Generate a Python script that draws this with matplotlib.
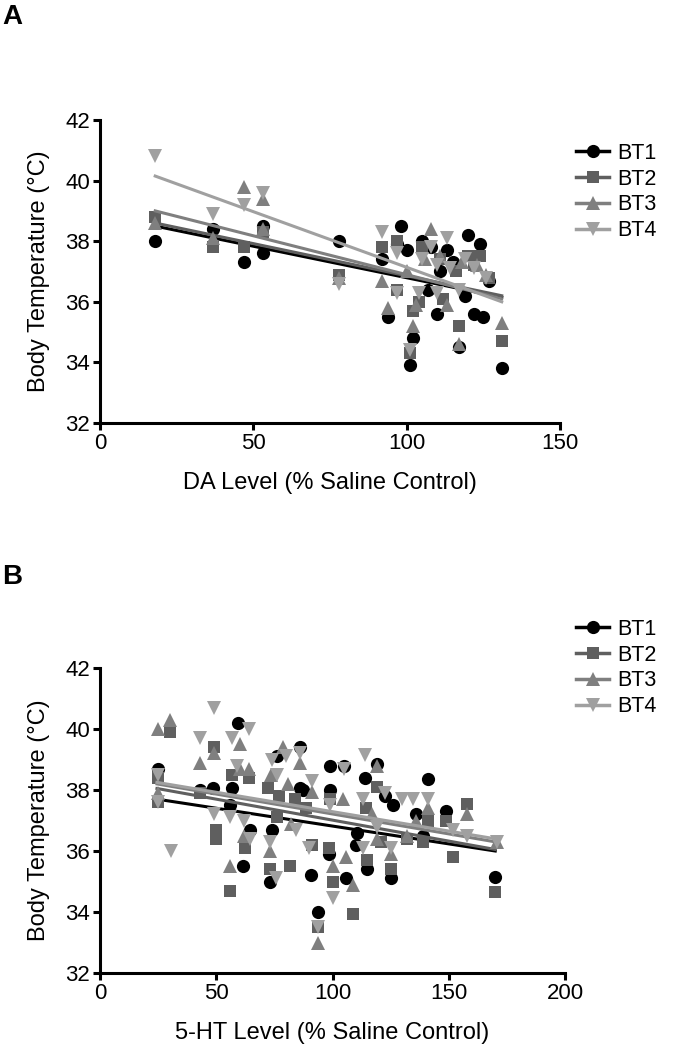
import numpy as np
import matplotlib.pyplot as plt

plt.rcParams['font.family'] = ['Liberation Sans', 'DejaVu Sans']

series = ['BT1', 'BT2', 'BT3', 'BT4']
colors = ['#000000', '#5f5f5f', '#7f7f7f', '#a0a0a0']
markers = ['o', 's', '^', 'v']
msizes = [9.5, 9, 10, 10]

# ---- Panel A: DA level vs body temperature ----
da_x = {
    'BT1': [18, 37, 47, 53, 53, 78, 92, 94, 97, 98, 100, 101, 102, 105, 107, 108,
            110, 111, 113, 115, 117, 119, 120, 122, 124, 125, 127, 131],
    'BT2': [18, 37, 47, 53, 78, 92, 97, 97, 101, 102, 104, 105, 111, 112, 116, 117,
            120, 122, 124, 127, 131],
    'BT3': [18, 37, 47, 53, 53, 78, 92, 94, 100, 102, 103, 106, 108, 111, 113, 117,
            118, 123, 126, 131],
    'BT4': [18, 37, 47, 53, 78, 92, 97, 97, 101, 104, 105, 108, 110, 110, 113, 114,
            117, 119, 122, 126],
}
da_y = {
    'BT1': [38.0, 38.4, 37.3, 38.5, 37.6, 38.0, 37.4, 35.5, 37.9, 38.5, 37.7, 33.9,
            34.8, 38.0, 36.4, 37.8, 35.6, 37.0, 37.7, 37.3, 34.5, 36.2, 38.2, 35.6,
            37.9, 35.5, 36.7, 33.8],
    'BT2': [38.8, 37.8, 37.8, 38.3, 36.9, 37.8, 38.0, 36.4, 34.3, 35.7, 36.0, 37.8,
            37.4, 36.1, 37.0, 35.2, 37.5, 37.2, 37.5, 36.8, 34.7],
    'BT3': [38.6, 38.1, 39.8, 39.4, 38.4, 36.8, 36.7, 35.8, 37.0, 35.2, 35.9, 37.4,
            38.4, 37.5, 35.9, 34.6, 37.3, 37.2, 36.9, 35.3],
    'BT4': [40.8, 38.9, 39.2, 39.6, 36.6, 38.3, 37.6, 36.3, 34.4, 36.3, 37.4, 37.8,
            37.2, 36.3, 38.1, 37.1, 36.4, 37.4, 37.1, 36.8],
}
# regression lines: y at the start / end of the x range
da_fit_x = (18, 131)
da_fit = {
    'BT1': (38.50, 36.15),
    'BT2': (38.60, 36.20),
    'BT3': (39.00, 36.10),
    'BT4': (40.15, 36.00),
}

# ---- Panel B: 5-HT level vs body temperature ----
ht_x = {
    'BT1': [25, 43, 48.6, 56.6, 56, 59.5, 61.6, 64.5, 73, 74, 76, 85.9, 86, 87.5,
            90.6, 93.6, 98.5, 99, 99, 105, 106, 110, 110.5, 114, 115, 119, 122.6,
            125, 126, 136, 139, 141, 149, 170],
    'BT2': [25, 25, 30, 43, 49, 50, 50, 56.6, 56, 62.5, 64, 72.4, 73, 76, 77, 81.7,
            84, 88.6, 91, 93.6, 98.5, 99, 100, 109, 114.5, 115, 119, 121, 125, 132,
            139, 141, 149, 152, 157.7, 170],
    'BT3': [25, 25, 30, 43, 49, 56, 60, 60, 62, 64, 73, 73.6, 78.6, 81, 82, 86, 91,
            93.6, 100, 104.6, 106, 109, 117, 119, 119, 125, 132, 136, 141, 157.7,
            170.6],
    'BT4': [25, 25, 30.5, 43, 49, 49, 56.6, 56, 59, 62, 64, 64.5, 73, 74, 75.5, 76,
            80, 84.5, 86, 90, 91, 93.6, 99, 100, 105, 113, 113, 114, 119, 122.6, 125,
            130, 134.5, 141, 152, 158, 170.6],
}
ht_y = {
    'BT1': [38.7, 38.0, 38.05, 38.05, 37.5, 40.2, 35.5, 36.7, 35.0, 36.7, 39.1,
            38.05, 39.4, 38.0, 35.2, 34.0, 35.9, 38.8, 38.0, 38.8, 35.1, 36.2, 36.6,
            38.4, 35.4, 38.85, 37.8, 35.1, 37.5, 37.2, 36.5, 38.35, 37.3, 35.15],
    'BT2': [38.4, 37.6, 39.9, 37.9, 39.4, 36.7, 36.4, 38.5, 34.7, 36.1, 38.4, 38.05,
            35.4, 37.1, 37.8, 35.5, 37.7, 37.4, 36.2, 33.5, 36.1, 37.7, 35.0, 33.95,
            37.4, 35.7, 38.1, 36.3, 35.4, 36.4, 36.3, 37.0, 37.0, 35.8, 37.55, 34.65],
    'BT3': [40.0, 37.9, 40.3, 38.9, 39.2, 35.5, 39.5, 38.7, 36.5, 38.7, 36.0, 38.5,
            39.4, 38.2, 36.9, 38.9, 37.95, 33.0, 35.5, 37.7, 35.8, 34.9, 37.2, 38.8,
            36.4, 35.9, 36.5, 37.0, 37.4, 37.2, 36.3],
    'BT4': [38.5, 37.6, 36.0, 39.7, 40.7, 37.2, 39.7, 37.1, 38.8, 37.0, 40.0, 36.4,
            36.3, 39.0, 35.1, 38.5, 39.1, 36.7, 39.2, 36.1, 38.3, 33.5, 37.5, 34.45,
            38.7, 37.7, 36.1, 39.15, 36.8, 37.9, 36.1, 37.7, 37.7, 37.7, 36.7, 36.5,
            36.3],
}
ht_fit_x = (24.5, 170)
ht_fit = {
    'BT1': (37.70, 36.00),
    'BT2': (38.05, 36.05),
    'BT3': (38.20, 36.30),
    'BT4': (38.25, 36.40),
}

W, H = 694, 1050
fig = plt.figure(figsize=(W / 100, H / 100), dpi=100)
ax_a = fig.add_axes([100/W, 1 - 423/H, 460/W, 303/H])
ax_b = fig.add_axes([100/W, 1 - 973/H, 465/W, 305/H])


def draw_panel(ax, xs, ys, fit_x, fits, xmax, xstep, xlabel, legend_top, wpx, hpx):
    for name, c, m, ms in zip(series, colors, markers, msizes):
        ax.plot(xs[name], ys[name], linestyle='none', marker=m, markersize=ms,
                color=c, markeredgewidth=0, clip_on=False)
        ax.plot(fit_x, fits[name], color=c, linewidth=2.2)

    ax.set_xlim(0, xmax)
    ax.set_ylim(32, 42)
    ax.set_xticks(np.arange(0, xmax + 1, xstep))
    ax.set_yticks(np.arange(32, 43, 2))
    for s in ['top', 'right']:
        ax.spines[s].set_visible(False)
    for s in ['left', 'bottom']:
        ax.spines[s].set_linewidth(2.2)
    ax.tick_params(direction='out', length=5, width=2.2, labelsize=16, pad=2)
    ax.set_xlabel(xlabel, fontsize=17)
    ax.set_ylabel('Body Temperature (°C)', fontsize=17)
    ax.xaxis.set_label_coords(0.5, -49 / hpx)
    ax.yaxis.set_label_coords(-50 / wpx, 0.5)

    # legend: line + marker per series
    handles = [plt.Line2D([], [], color=c, marker=m, markersize=ms, linewidth=2.5,
                          markeredgewidth=0)
               for c, m, ms in zip(colors, markers, msizes)]
    fig.legend(handles, series, loc='upper left',
               bbox_to_anchor=(576/W, 1 - legend_top/H),
               frameon=False, fontsize=15.5, handlelength=1.55,
               handletextpad=0.35, labelspacing=0.22, borderpad=0,
               borderaxespad=0)


draw_panel(ax_a, da_x, da_y, da_fit_x, da_fit, 150, 50,
           'DA Level (% Saline Control)', 143, 460, 303)
draw_panel(ax_b, ht_x, ht_y, ht_fit_x, ht_fit, 200, 50,
           '5-HT Level (% Saline Control)', 619, 465, 305)

fig.text(2/W, 1 - 4/H, 'A', fontsize=20, fontweight='bold', va='top', ha='left')
fig.text(2/W, 1 - 564/H, 'B', fontsize=20, fontweight='bold', va='top', ha='left')

fig.savefig('out.png', dpi=100)
